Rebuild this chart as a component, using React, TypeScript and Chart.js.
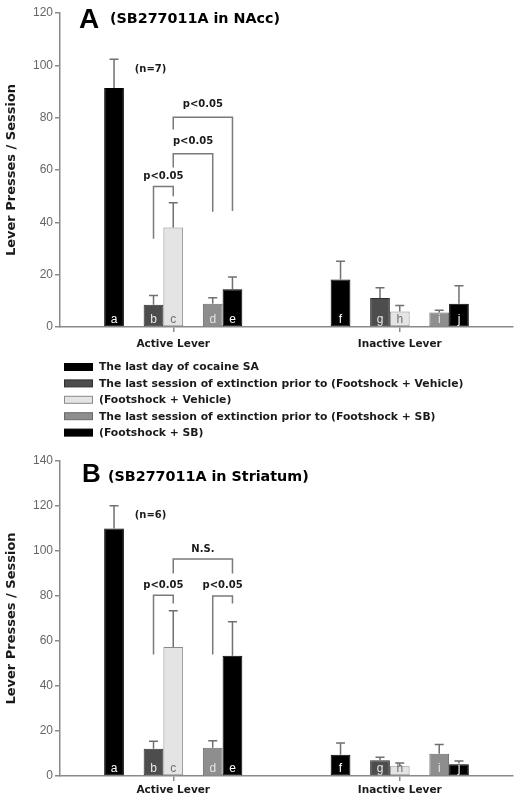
import React, { useEffect, useRef } from 'react';
import { Chart, registerables } from 'chart.js';

Chart.register(...registerables);

// ---------- data ----------
const categories = ['Active Lever', 'Inactive Lever'];
const seriesNames = [
  'The last day of cocaine SA',
  'The last session of extinction prior to (Footshock + Vehicle)',
  '(Footshock + Vehicle)',
  'The last session of extinction prior to (Footshock + SB)',
  '(Footshock + SB)',
];
const barLetters = [
  ['a', 'f'],
  ['b', 'g'],
  ['c', 'h'],
  ['d', 'i'],
  ['e', 'j'],
];
const yTicksA = [0, 120, 20];
const yTicksB = [0, 140, 20];

// Panel A (SB277011A in NAcc)
const aLastSA = [91.3, 18.2];
const aExtVeh = [8.5, 11.1];
const aShockVeh = [38.0, 5.9];
const aExtSB = [8.9, 5.5];
const aShockSB = [14.4, 8.9];
const aLastSAErr = [11.0, 6.9];
const aExtVehErr = [3.5, 3.9];
const aShockVehErr = [9.5, 2.3];
const aExtSBErr = [2.3, 0.9];
const aShockSBErr = [4.7, 6.9];
// brackets: series index from/to (active lever), y of top line, left leg end, right leg end, text y
const aBrackets = [
  { from: 1, to: 2, top: 53.7, left: 33.7, right: 50.0, textY: 57.5, text: 'p<0.05' },
  { from: 2, to: 3, top: 66.2, left: 61.0, right: 44.0, textY: 70.8, text: 'p<0.05' },
  { from: 2, to: 4, top: 80.2, left: 75.5, right: 44.3, textY: 85.0, text: 'p<0.05' },
];
const aN = { text: '(n=7)', value: 98.6 };

// Panel B (SB277011A in Striatum)
const bLastSA = [110.0, 9.5];
const bExtVeh = [12.1, 7.0];
const bShockVeh = [57.3, 4.3];
const bExtSB = [12.6, 9.9];
const bShockSB = [53.5, 5.2];
const bLastSAErr = [10.1, 5.2];
const bExtVehErr = [3.3, 1.3];
const bShockVehErr = [16.2, 1.5];
const bExtSBErr = [3.1, 4.1];
const bShockSBErr = [15.1, 1.5];
const bBrackets = [
  { from: 1, to: 2, top: 80.3, left: 54.0, right: 76.7, textY: 84.6, text: 'p<0.05' },
  { from: 3, to: 4, top: 80.0, left: 54.0, right: 76.7, textY: 84.6, text: 'p<0.05' },
  { from: 2, to: 4, top: 96.4, left: 90.0, right: 90.0, textY: 100.6, text: 'N.S.' },
];
const bN = { text: '(n=6)', value: 115.6 };

// ---------- styles ----------
const BOLD = '"DejaVu Sans", sans-serif';
const SANS = '"Liberation Sans", Arial, sans-serif';
const seriesStyle = [
  { bg: '#000000', border: '#000000', letter: '#ffffff' },
  { bg: '#4d4d4d', border: '#2e2e2e', letter: '#e8e8e8' },
  { bg: '#e4e4e4', border: '#8a8a8a', letter: '#707070' },
  { bg: '#8e8e8e', border: '#6a6a6a', letter: '#e4e4e4' },
  { bg: '#000000', border: '#000000', letter: '#ffffff' },
];
// slots inside each lever group (gaps at slots 1 and 4)
const slotOfSeries = [0, 2, 3, 5, 6];
const SLOTS = 7;

function buildDatasets(values: number[][]) {
  const ds: any[] = [];
  for (let s = 0; s < SLOTS; s++) {
    const si = slotOfSeries.indexOf(s);
    if (si < 0) {
      ds.push({ label: '', data: categories.map(() => null), backgroundColor: 'transparent' });
    } else {
      ds.push({
        label: seriesNames[si],
        data: values[si],
        backgroundColor: seriesStyle[si].bg,
        borderColor: seriesStyle[si].border,
        borderWidth: 1,
        borderSkipped: false,
        categoryPercentage: 0.61,
        barPercentage: 1.0,
      });
    }
  }
  return ds;
}

const decorPlugin = {
  id: 'decor',
  afterDraw(chart: any, _args: any, opts: any) {
    const ctx = chart.ctx as CanvasRenderingContext2D;
    const ys = chart.scales.y;
    const area = chart.chartArea;
    const elOf = (si: number, ci: number) => chart.getDatasetMeta(slotOfSeries[si]).data[ci];
    const valOf = (si: number, ci: number) => chart.data.datasets[slotOfSeries[si]].data[ci];
    ctx.save();

    // error bars (upper only)
    ctx.strokeStyle = '#707070';
    ctx.lineWidth = 1.5;
    opts.errors.forEach((errs: number[], si: number) => {
      errs.forEach((e: number, ci: number) => {
        const el = elOf(si, ci);
        const yt = ys.getPixelForValue(valOf(si, ci) + e);
        ctx.beginPath();
        ctx.moveTo(el.x, el.y);
        ctx.lineTo(el.x, yt);
        ctx.moveTo(el.x - 4.5, yt);
        ctx.lineTo(el.x + 4.5, yt);
        ctx.stroke();
      });
    });

    // bar letters
    ctx.font = `12px ${SANS}`;
    ctx.textAlign = 'center';
    ctx.textBaseline = 'alphabetic';
    barLetters.forEach((ls, si) => {
      ls.forEach((l, ci) => {
        const el = elOf(si, ci);
        ctx.fillStyle = seriesStyle[si].letter;
        ctx.fillText(l, el.x, area.bottom - 4);
      });
    });

    // significance brackets
    opts.brackets.forEach((b: any) => {
      const xl = elOf(b.from, 0).x;
      const xr = elOf(b.to, 0).x;
      const yt = ys.getPixelForValue(b.top);
      ctx.strokeStyle = '#7a7a7a';
      ctx.lineWidth = 1.5;
      ctx.beginPath();
      ctx.moveTo(xl, ys.getPixelForValue(b.left));
      ctx.lineTo(xl, yt);
      ctx.lineTo(xr, yt);
      ctx.lineTo(xr, ys.getPixelForValue(b.right));
      ctx.stroke();
      ctx.fillStyle = '#1a1a1a';
      ctx.font = `bold 10px ${BOLD}`;
      ctx.textAlign = 'center';
      ctx.textBaseline = 'middle';
      ctx.fillText(b.text, (xl + xr) / 2, ys.getPixelForValue(b.textY));
    });

    // n label
    const nx = elOf(1, 0).x - 3;
    ctx.fillStyle = '#1a1a1a';
    ctx.font = `bold 10px ${BOLD}`;
    ctx.textAlign = 'center';
    ctx.textBaseline = 'middle';
    ctx.fillText(opts.n.text, nx, ys.getPixelForValue(opts.n.value));

    // panel title
    const t = opts.title;
    ctx.textAlign = 'left';
    ctx.textBaseline = 'alphabetic';
    ctx.fillStyle = '#000';
    ctx.font = `bold ${t.bigSize}px ${SANS}`;
    ctx.fillText(t.letter, t.x, t.y);
    ctx.font = `bold 14.3px ${BOLD}`;
    ctx.fillText(t.text, t.x2, t.y2);

    // legend
    if (opts.legend) {
      const items = chart.data.datasets.filter((d: any) => d.label);
      items.forEach((d: any, i: number) => {
        const cy = opts.legend.y + i * opts.legend.step;
        ctx.fillStyle = d.backgroundColor;
        ctx.fillRect(64.5, cy - 3.5, 28, 7);
        ctx.strokeStyle = d.borderColor;
        ctx.lineWidth = 1;
        ctx.strokeRect(64.5, cy - 3.5, 28, 7);
        ctx.fillStyle = '#1a1a1a';
        ctx.font = `bold 10.8px ${BOLD}`;
        ctx.textAlign = 'left';
        ctx.textBaseline = 'middle';
        ctx.fillText(d.label, 99, cy + 0.5);
      });
    }
    ctx.restore();
  },
};

function makeConfig(
  values: number[][],
  errors: number[][],
  yTicks: number[],
  brackets: any[],
  n: any,
  title: any,
  padding: any,
  xLabelPad: number,
  legend: any
) {
  return {
    type: 'bar' as const,
    data: { labels: categories, datasets: buildDatasets(values) },
    plugins: [decorPlugin],
    options: {
      responsive: false,
      animation: false,
      devicePixelRatio: 1,
      events: [],
      layout: { padding },
      plugins: {
        legend: { display: false },
        tooltip: { enabled: false },
        decor: { errors, brackets, n, title, legend },
      },
      scales: {
        x: {
          type: 'category',
          offset: true,
          grid: {
            display: true,
            drawOnChartArea: false,
            drawTicks: true,
            tickLength: 5,
            offset: false,
            color: '#8a8a8a',
            lineWidth: 1.5,
          },
          border: { display: true, color: '#8a8a8a', width: 1.5 },
          ticks: {
            color: '#1a1a1a',
            font: { family: BOLD, size: 10.5, weight: 'bold' },
            padding: xLabelPad,
            maxRotation: 0,
          },
          afterFit: (s: any) => {
            s.height = 28;
          },
        },
        y: {
          min: yTicks[0],
          max: yTicks[1],
          grid: {
            display: true,
            drawOnChartArea: false,
            drawTicks: true,
            tickLength: 5,
            color: '#8a8a8a',
            lineWidth: 1.5,
          },
          border: { display: true, color: '#8a8a8a', width: 1.5 },
          ticks: {
            stepSize: yTicks[2],
            color: '#666666',
            font: { family: SANS, size: 12 },
            padding: 2,
          },
          title: {
            display: true,
            text: 'Lever Presses / Session',
            color: '#1a1a1a',
            font: { family: BOLD, size: 13, weight: 'bold' },
            padding: { top: 4, bottom: 0 },
          },
          afterFit: (s: any) => {
            s.width = 60;
          },
        },
      },
    },
  };
}

export default function App() {
  const refA = useRef<HTMLCanvasElement>(null);
  const refB = useRef<HTMLCanvasElement>(null);

  useEffect(() => {
    const chartA = new Chart(
      refA.current as HTMLCanvasElement,
      makeConfig(
        [aLastSA, aExtVeh, aShockVeh, aExtSB, aShockSB],
        [aLastSAErr, aExtVehErr, aShockVehErr, aExtSBErr, aShockSBErr],
        yTicksA,
        aBrackets,
        aN,
        { letter: 'A', bigSize: 28, x: 79, y: 28, text: '(SB277011A in NAcc)', x2: 110, y2: 23 },
        { top: 13, right: 7, bottom: 95, left: 0 },
        6,
        { y: 367, step: 16.4 }
      ) as any
    );
    const chartB = new Chart(
      refB.current as HTMLCanvasElement,
      makeConfig(
        [bLastSA, bExtVeh, bShockVeh, bExtSB, bShockSB],
        [bLastSAErr, bExtVehErr, bShockVehErr, bExtSBErr, bShockSBErr],
        yTicksB,
        bBrackets,
        bN,
        { letter: 'B', bigSize: 26, x: 82, y: 32, text: '(SB277011A in Striatum)', x2: 108, y2: 31 },
        { top: 11, right: 7, bottom: 1, left: 0 },
        3,
        null
      ) as any
    );
    return () => {
      chartA.destroy();
      chartB.destroy();
    };
  }, []);

  return (
    <div style={{ position: 'absolute', left: 0, top: 0, width: 520, height: 805, background: '#ffffff' }}>
      <canvas ref={refA} width={520} height={450} style={{ position: 'absolute', left: 0, top: 0, display: 'block' }} />
      <canvas ref={refB} width={520} height={355} style={{ position: 'absolute', left: 0, top: 450, display: 'block' }} />
    </div>
  );
}
